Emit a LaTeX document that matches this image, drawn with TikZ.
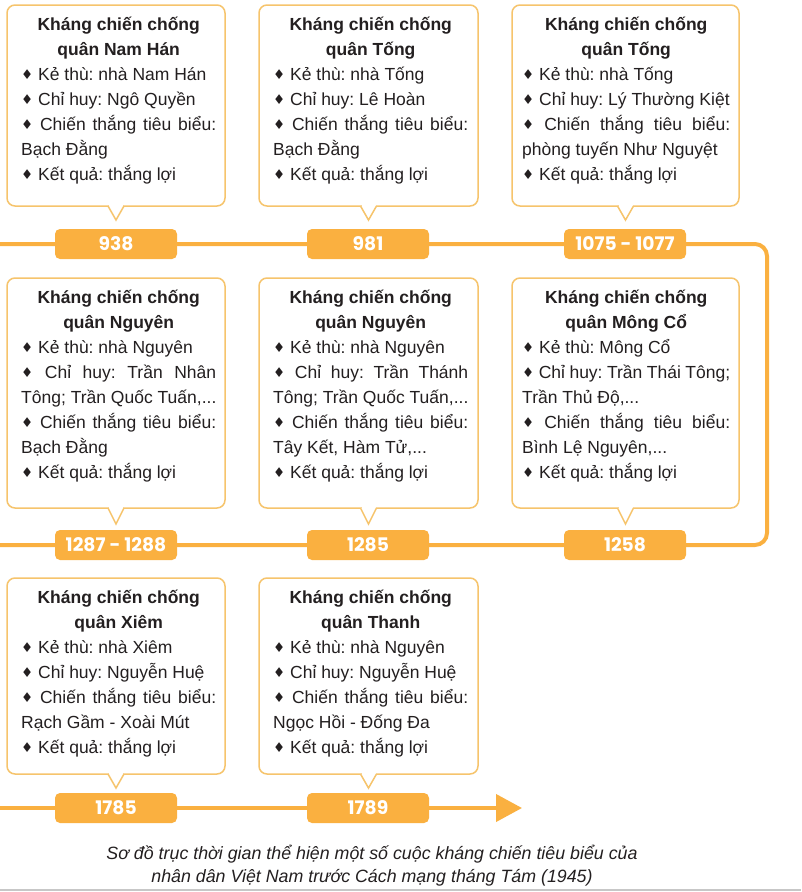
\documentclass[tikz,border=0pt]{standalone}
\usepackage{fontspec}
\setmainfont{Liberation Sans}
\newfontfamily\yearfont{Poppins}
\newfontfamily\symfont{DejaVu Sans}
\usetikzlibrary{arrows.meta}
\definecolor{tlorange}{RGB}{250,176,64}
\definecolor{bordorange}{RGB}{246,196,108}
\definecolor{txt}{RGB}{35,31,32}
\newcommand\dm{{\symfont\fontsize{13.5}{13.5}\selectfont\raisebox{0.2pt}{♦}}}
\newcommand\ttl[1]{\makebox[\linewidth]{\bfseries #1}}
\newcommand\jl[1]{\makebox[\linewidth][s]{#1}}
\newcommand\callout[5]{%
  % #1 x1, #2 y1, #3 x2, #4 y2, #5 tip y
  \draw[cbord, fill=white, rounded corners=8pt] (#1,#2) rectangle (#3,#4);
  \pgfmathsetmacro\cx{(#1+#3)/2}
  \fill[white] (\cx-7,#4-1.2) rectangle (\cx+7,#4+1.2);
  \draw[cbord, fill=white, line join=miter] (\cx-8,#4) -- (\cx,#5) -- (\cx+8,#4);
}
\tikzset{
  cbord/.style={draw=bordorange, line width=1.5pt},
  info/.style={anchor=base west, inner sep=0pt, text width=#1, align=left,
    text=txt, font=\fontsize{17.5}{25}\selectfont\frenchspacing,
    execute at begin node={\spaceskip=0pt\xspaceskip=0pt}},
  yearbox/.style={fill=tlorange, rounded corners=5pt, minimum width=122pt,
    minimum height=30pt, inner sep=0pt, text=white,
    font=\yearfont\bfseries\fontsize{18.7}{18.7}\selectfont},
  tline/.style={draw=tlorange, line width=4pt},
  caption/.style={align=center, text=txt, inner sep=0pt,
    font=\itshape\fontsize{17.8}{23}\selectfont\frenchspacing,
    execute at begin node={\spaceskip=0pt\xspaceskip=0pt}}
}
\begin{document}
\begin{tikzpicture}[x=1pt,y=-1pt]
\useasboundingbox (0,0) rectangle (801,892);
\fill[white] (0,0) rectangle (801,892);

% timeline
\coordinate (l1) at (0,244);
\coordinate (c1) at (767,244);
\coordinate (c2) at (767,545);
\coordinate (l2) at (0,545);
\coordinate (l3) at (0,808);
\coordinate (a3) at (522,808);
\draw[tline, rounded corners=12pt] (l1) -- (c1) -- (c2) -- (l2);
\draw[tline, -{Triangle[length=26pt,width=27pt]}] (l3) -- (a3);

% callouts
\callout{7}{5}{225}{206}{220}
\callout{259}{5}{478}{206}{220}
\callout{512}{5}{739}{206}{220}
\callout{7}{278}{225}{508}{524}
\callout{259}{278}{478}{508}{524}
\callout{512}{278}{739}{508}{524}
\callout{7}{578}{225}{774}{788}
\callout{259}{578}{478}{774}{788}

% row 1
\node[info=195pt] (t1) at (21,30) {\ttl{Kháng chiến chống}\\
\ttl{quân Nam Hán}\\
\dm{} Kẻ thù: nhà Nam Hán\\
\dm{} Chỉ huy: Ngô Quyền\\
\jl{\dm{} Chiến thắng tiêu biểu:}\\
Bạch Đằng\\
\dm{} Kết quả: thắng lợi};
\node[info=195pt] (t2) at (273,30) {\ttl{Kháng chiến chống}\\
\ttl{quân Tống}\\
\dm{} Kẻ thù: nhà Tống\\
\dm{} Chỉ huy: Lê Hoàn\\
\jl{\dm{} Chiến thắng tiêu biểu:}\\
Bạch Đằng\\
\dm{} Kết quả: thắng lợi};
\node[info=208pt] (t3) at (522,30) {\ttl{Kháng chiến chống}\\
\ttl{quân Tống}\\
\dm{} Kẻ thù: nhà Tống\\
\mbox{\dm{} Chỉ huy: Lý Thường Kiệt}\\
\jl{\dm{} Chiến thắng tiêu biểu:}\\
\mbox{phòng tuyến Như Nguyệt}\\
\dm{} Kết quả: thắng lợi};

% row 2
\node[info=195pt] (t4) at (21,303) {\ttl{Kháng chiến chống}\\
\ttl{quân Nguyên}\\
\dm{} Kẻ thù: nhà Nguyên\\
\jl{\dm{} Chỉ huy: Trần Nhân}\\
\mbox{Tông; Trần Quốc Tuấn,...}\\
\jl{\dm{} Chiến thắng tiêu biểu:}\\
Bạch Đằng\\
\dm{} Kết quả: thắng lợi};
\node[info=195pt] (t5) at (273,303) {\ttl{Kháng chiến chống}\\
\ttl{quân Nguyên}\\
\dm{} Kẻ thù: nhà Nguyên\\
\jl{\dm{} Chỉ huy: Trần Thánh}\\
\mbox{Tông; Trần Quốc Tuấn,...}\\
\jl{\dm{} Chiến thắng tiêu biểu:}\\
Tây Kết, Hàm Tử,...\\
\dm{} Kết quả: thắng lợi};
\node[info=208pt] (t6) at (522,303) {\ttl{Kháng chiến chống}\\
\ttl{quân Mông Cổ}\\
\dm{} Kẻ thù: Mông Cổ\\
\jl{\dm{} Chỉ huy: Trần Thái Tông;}\\
Trần Thủ Độ,...\\
\jl{\dm{} Chiến thắng tiêu biểu:}\\
Bình Lệ Nguyên,...\\
\dm{} Kết quả: thắng lợi};

% row 3
\node[info=195pt] (t7) at (21,603) {\ttl{Kháng chiến chống}\\
\ttl{quân Xiêm}\\
\dm{} Kẻ thù: nhà Xiêm\\
\dm{} Chỉ huy: Nguyễn Huệ\\
\jl{\dm{} Chiến thắng tiêu biểu:}\\
Rạch Gầm - Xoài Mút\\
\dm{} Kết quả: thắng lợi};
\node[info=195pt] (t8) at (273,603) {\ttl{Kháng chiến chống}\\
\ttl{quân Thanh}\\
\dm{} Kẻ thù: nhà Nguyên\\
\dm{} Chỉ huy: Nguyễn Huệ\\
\jl{\dm{} Chiến thắng tiêu biểu:}\\
Ngọc Hồi - Đống Đa\\
\dm{} Kết quả: thắng lợi};

% years
\node[yearbox] (y938) at (116,244) {938};
\node[yearbox] (y981) at (368,244) {981};
\node[yearbox] (y1075) at (625,244) {1075 - 1077};
\node[yearbox] (y1287) at (116,545) {1287 - 1288};
\node[yearbox] (y1285) at (368,545) {1285};
\node[yearbox] (y1258) at (625,545) {1258};
\node[yearbox] (y1785) at (116,808) {1785};
\node[yearbox] (y1789) at (368,808) {1789};

% caption (base anchor = last line)
\node[caption, anchor=base] (cap) at (372,882) {Sơ đồ trục thời gian thể hiện một số cuộc kháng chiến tiêu biểu của\\
nhân dân Việt Nam trước Cách mạng tháng Tám (1945)};

\draw[draw=black!22, line width=1.5pt] (0,890) -- (801,890);
\end{tikzpicture}
\end{document}
